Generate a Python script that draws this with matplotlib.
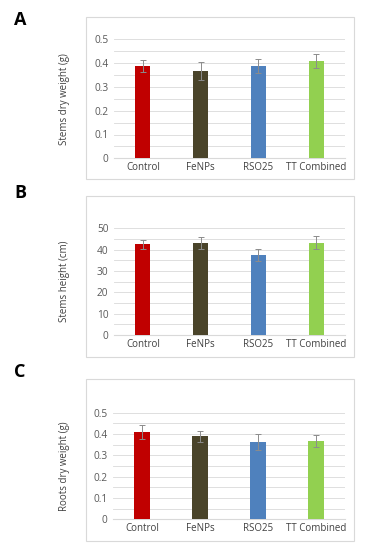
import matplotlib
matplotlib.use("Agg")
import matplotlib.pyplot as plt
from matplotlib.patches import Rectangle
import numpy as np

plt.rcParams['font.family'] = ['Open Sans', 'DejaVu Sans']

categories = ["Control", "FeNPs", "RSO25", "TT Combined"]
colors = ["#C00000", "#4A442A", "#4F81BD", "#92D050"]

stems_dry = [0.388, 0.367, 0.387, 0.409]
stems_dry_err = [0.024, 0.036, 0.029, 0.028]

stems_height = [42.5, 43.1, 37.4, 43.3]
stems_height_err = [2.0, 3.0, 2.8, 2.9]

roots_dry = [0.408, 0.389, 0.361, 0.367]
roots_dry_err = [0.033, 0.025, 0.038, 0.029]

W, H = 368, 550
fig = plt.figure(figsize=(W / 100, H / 100), dpi=100)

def px_axes(x0, x1, ybot, ytop):
    return fig.add_axes([x0 / W, 1 - ybot / H, (x1 - x0) / W, (ybot - ytop) / H])

def frame(x0, x1, ytop, ybot):
    r = Rectangle((x0 / W, 1 - ybot / H), (x1 - x0) / W, (ybot - ytop) / H,
                  transform=fig.transFigure, fill=False, edgecolor="#D9D9D9",
                  linewidth=0.8, zorder=0)
    fig.patches.append(r)

panels = [
    dict(vals=stems_dry, err=stems_dry_err, ylabel="Stems dry weight (g)",
         ymax=0.5, major=0.1, minor=0.05, fmt=lambda v: "0" if v == 0 else f"{v:.1f}",
         ax=(114, 345, 158.3, 39.3), frame=(86, 354, 17, 179), letter="A", ly=20),
    dict(vals=stems_height, err=stems_height_err, ylabel="Stems height (cm)",
         ymax=50, major=10, minor=5, fmt=lambda v: f"{v:.0f}",
         ax=(114, 345, 335, 228.3), frame=(86, 354, 196, 357), letter="B", ly=193),
    dict(vals=roots_dry, err=roots_dry_err, ylabel="Roots dry weight (g)",
         ymax=0.5, major=0.1, minor=0.05, fmt=lambda v: "0" if v == 0 else f"{v:.1f}",
         ax=(113, 345, 519.3, 412.7), frame=(86, 354, 379, 541), letter="C", ly=372),
]

x = np.arange(len(categories))
for p in panels:
    x0, x1, yb, yt_ = p["ax"]
    ax = px_axes(x0, x1, yb, yt_)
    frame(*p["frame"])
    ax.set_xlim(-0.5, len(categories) - 0.5)
    ax.set_ylim(0, p["ymax"])
    ax.bar(x, p["vals"], width=0.26, color=colors, zorder=3)
    ax.errorbar(x, p["vals"], yerr=p["err"], fmt="none", ecolor="#8C8C8C",
                elinewidth=0.7, capsize=2, capthick=0.7, zorder=4)
    yt = np.arange(0, p["ymax"] + p["minor"] / 2, p["minor"])
    for v in yt:
        ax.axhline(v, color="#D9D9D9", linewidth=0.6, zorder=1)
    ticks = np.arange(0, p["ymax"] + p["major"] / 2, p["major"])
    ax.set_yticks(ticks)
    ax.set_yticklabels([p["fmt"](round(t, 3)) for t in ticks])
    ax.set_xticks(x)
    ax.set_xticklabels(categories)
    ax.tick_params(axis="both", length=0)
    ax.tick_params(axis="y", pad=4, labelsize=7.3, colors="#595959")
    ax.tick_params(axis="x", pad=3, labelsize=7, colors="#404040")
    for s in ["top", "right", "left"]:
        ax.spines[s].set_visible(False)
    ax.spines["bottom"].set_color("#D9D9D9")
    ax.spines["bottom"].set_linewidth(0.8)
    ax.patch.set_visible(False)
    ax.set_ylabel(p["ylabel"], fontsize=7, color="#404040")
    # place y label center at x=70 px, vertically centred on plot area
    ax.yaxis.set_label_coords((70 - x0) / (x1 - x0), 0.5)
    fig.text(14 / W, 1 - p["ly"] / H, p["letter"], fontsize=13,
             fontweight="bold", ha="left", va="center", color="black")

fig.savefig("out.png", dpi=100)
